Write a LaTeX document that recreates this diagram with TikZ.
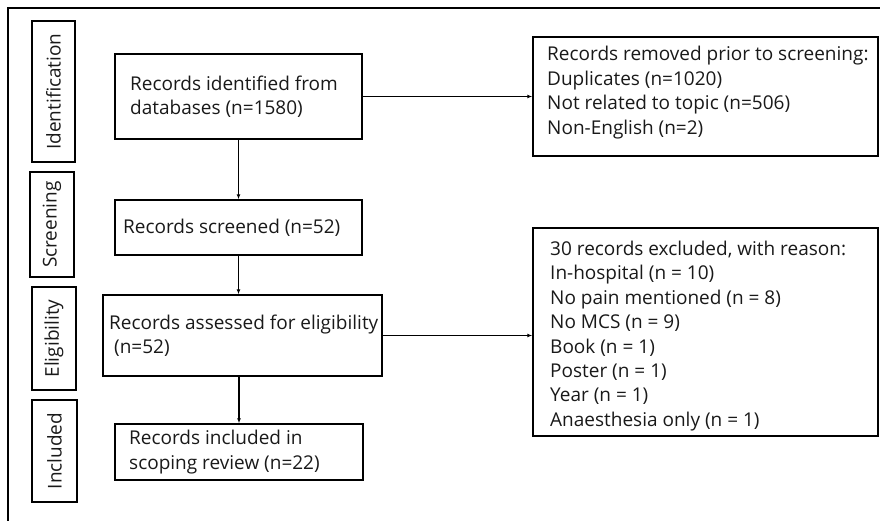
\documentclass[tikz,border=0pt]{standalone}
\usepackage{fontspec}
\setmainfont{Open Sans}
\usetikzlibrary{arrows.meta}
\tikzset{
  box/.style={draw=black, line width=1.5pt, inner sep=0pt, rectangle},
  lab/.style={draw=black, line width=1.5pt, inner sep=0pt, rectangle},
  txt/.style={inner sep=0pt, align=left, anchor=west, text=black!90, font=\fontsize{19}{24.4}\selectfont},
  vtxt/.style={inner sep=0pt, rotate=90, text=black!90, font=\fontsize{19}{24.4}\selectfont},
  arr/.style={line width=1.2pt, -{Latex[length=5pt,width=4pt]}}
}
\begin{document}
\begin{tikzpicture}[x=1pt,y=-1pt]
\useasboundingbox (0,0) rectangle (880,520);
\clip (0,0) rectangle (880,520);
\draw[line width=2.2pt] (8,530) -- (8,8) -- (890,8);
% phase labels
\node[lab, minimum width=43pt, minimum height=141pt] (L1) at (53.5,91.5) {};
\node[vtxt] (L1t) at (L1.center) {Identification};
\node[lab, minimum width=44pt, minimum height=105pt] (L2) at (52,224.5) {};
\node[vtxt] (L2t) at (L2.center) {Screening};
\node[lab, minimum width=44pt, minimum height=103pt] (L3) at (54,338.5) {};
\node[vtxt] (L3t) at (L3.center) {Eligibility};
\node[lab, minimum width=45pt, minimum height=102pt] (L4) at (54.5,451) {};
\node[vtxt] (L4t) at (L4.center) {Included};
% main boxes
\node[box, minimum width=247pt, minimum height=85pt] (b1) at (238.5,96.5) {};
\node[txt] (b1t) at (130,96.5) {Records identified from\\databases (n=1580)};
\node[box, minimum width=247pt, minimum height=55pt] (b2) at (238.5,227.5) {};
\node[txt] (b2t) at (123,227.5) {Records screened (n=52)};
\node[box, minimum width=279pt, minimum height=81pt] (b3) at (242.5,335.5) {};
\node[txt] (b3t) at (109,335.5) {Records assessed for eligibility\\\ (n=52)};
\node[box, minimum width=248pt, minimum height=56pt] (b4) at (239,452) {};
\node[txt] (b4t) at (129,452) {Records included in\\scoping review (n=22)};
% right boxes
\node[box, minimum width=345pt, minimum height=119pt] (r1) at (705.5,96.5) {};
\node[txt] (r1t) at (547,92.5) {Records removed prior to screening:\\Duplicates (n=1020)\\Not related to topic (n=506)\\Non-English (n=2)};
\node[box, minimum width=345pt, minimum height=208pt] (r2) at (705.5,332) {};
\node[txt] (r2t) at (550,336) {30 records excluded, with reason:\\In-hospital (n = 10)\\No pain mentioned (n = 8)\\No MCS (n = 9)\\Book (n = 1)\\Poster (n = 1)\\Year (n = 1)\\Anaesthesia only (n = 1)};
% connectors
\draw[arr] (b1.south) -- (b2.north);
\draw[arr] (b2.south) -- (b2.south |- b3.north);
\draw[arr] (b4.north |- b3.south) -- (b4.north);
\draw[arr] (b1.east) -- (r1.west);
\draw[arr] (b3.east) -- (b3.east -| r2.west);
\end{tikzpicture}
\end{document}
